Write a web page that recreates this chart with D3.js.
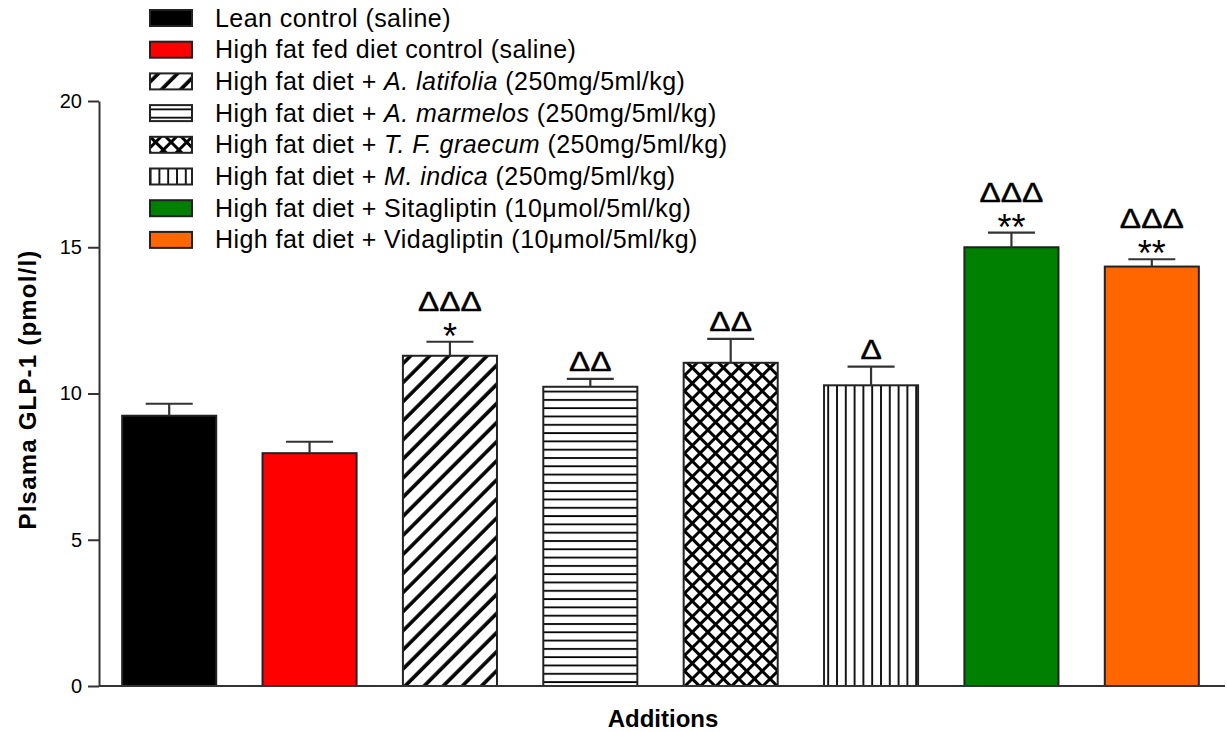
<!DOCTYPE html>
<html>
<head>
<meta charset="utf-8">
<script src="https://cdn.jsdelivr.net/npm/d3@7"></script>
<style>
  html, body { margin: 0; padding: 0; background: #fff; }
  svg { display: block; font-family: "Liberation Sans", Arial, sans-serif; }
</style>
</head>
<body>
<svg id="chart" width="1227" height="732"></svg>
<script>
// Group names (legend rows): plain prefix, italic species name, plain suffix
const groupPrefix = ["Lean control (saline)", "High fat fed diet control (saline)",
  "High fat diet + ", "High fat diet + ", "High fat diet + ", "High fat diet + ",
  "High fat diet + Sitagliptin (10\u03bcmol/5ml/kg)", "High fat diet + Vidagliptin (10\u03bcmol/5ml/kg)"];
const groupItalic = ["", "", "A. latifolia", "A. marmelos", "T. F. graecum", "M. indica", "", ""];
const groupSuffix = ["", "", " (250mg/5ml/kg)", " (250mg/5ml/kg)", " (250mg/5ml/kg)", " (250mg/5ml/kg)", "", ""];

// Mean plasma GLP-1 (pmol/l) and SEM per group
const means = [9.24, 7.96, 11.29, 10.23, 11.05, 10.28, 15.0, 14.34];
const sems  = [0.41, 0.39, 0.48, 0.27, 0.82, 0.64, 0.50, 0.25];

// Significance marks above each bar
const deltaMarks = ["", "", "\u0394\u0394\u0394", "\u0394\u0394", "\u0394\u0394", "\u0394", "\u0394\u0394\u0394", "\u0394\u0394\u0394"];
const starMarks  = ["", "", "*", "", "", "", "**", "**"];

const yTicks = [0, 5, 10, 15, 20];

const fills = ["#000000", "#ff0000", "url(#pDiag)", "url(#pHoriz)", "url(#pCross)", "url(#pVert)", "#008000", "#ff6600"];

const svg = d3.select("#chart");
const axisColor = "#333";

// Fill patterns
const defs = svg.append("defs");
const pDiag = defs.append("pattern").attr("id", "pDiag").attr("patternUnits", "userSpaceOnUse")
  .attr("width", 13.5).attr("height", 13.5).attr("patternTransform", "rotate(45)");
pDiag.append("rect").attr("width", 13.5).attr("height", 13.5).attr("fill", "#fff");
pDiag.append("line").attr("x1", 2).attr("x2", 2).attr("y1", 0).attr("y2", 13.5)
  .attr("stroke", "#000").attr("stroke-width", 3.6);

const pHoriz = defs.append("pattern").attr("id", "pHoriz").attr("patternUnits", "userSpaceOnUse")
  .attr("width", 10).attr("height", 8.3).attr("y", 0.5);
pHoriz.append("rect").attr("width", 10).attr("height", 8.3).attr("fill", "#fff");
pHoriz.append("line").attr("x1", 0).attr("x2", 10).attr("y1", 1).attr("y2", 1)
  .attr("stroke", "#000").attr("stroke-width", 1.8);

const pCross = defs.append("pattern").attr("id", "pCross").attr("patternUnits", "userSpaceOnUse")
  .attr("width", 11).attr("height", 11).attr("patternTransform", "rotate(45)");
pCross.append("rect").attr("width", 11).attr("height", 11).attr("fill", "#fff");
pCross.append("line").attr("x1", 0).attr("x2", 11).attr("y1", 1).attr("y2", 1)
  .attr("stroke", "#000").attr("stroke-width", 4);
pCross.append("line").attr("x1", 1).attr("x2", 1).attr("y1", 0).attr("y2", 11)
  .attr("stroke", "#000").attr("stroke-width", 4);

const pVert = defs.append("pattern").attr("id", "pVert").attr("patternUnits", "userSpaceOnUse")
  .attr("width", 8.8).attr("height", 10).attr("x", 0);
pVert.append("rect").attr("width", 8.8).attr("height", 10).attr("fill", "#fff");
pVert.append("line").attr("x1", 1).attr("x2", 1).attr("y1", 0).attr("y2", 10)
  .attr("stroke", "#000").attr("stroke-width", 1.8);

// Scales
const x = d3.scaleBand().domain(d3.range(means.length)).range([99, 1222])
  .paddingInner(0.33).paddingOuter(0.165);
const y = d3.scaleLinear().domain([0, 20]).range([686, 101]);

// Bars
const bars = svg.append("g");
bars.selectAll("rect").data(means).join("rect")
  .attr("x", (d, i) => x(i))
  .attr("y", d => y(d))
  .attr("width", x.bandwidth())
  .attr("height", d => y(0) - y(d))
  .attr("fill", (d, i) => fills[i])
  .attr("stroke", "#222").attr("stroke-width", 2);

// Error bars (upper whisker only)
const err = svg.append("g").attr("stroke", axisColor).attr("stroke-width", 2.2);
means.forEach((m, i) => {
  const cx = x(i) + x.bandwidth() / 2;
  const capW = x.bandwidth() / 2;
  err.append("line").attr("x1", cx).attr("x2", cx).attr("y1", y(m)).attr("y2", y(m + sems[i]));
  err.append("line").attr("x1", cx - capW / 2).attr("x2", cx + capW / 2)
    .attr("y1", y(m + sems[i])).attr("y2", y(m + sems[i]));
});

// Significance annotations
const ann = svg.append("g").attr("text-anchor", "middle").attr("fill", "#000");
function deltaText(cx, by, s) {
  ann.append("text").attr("transform", `translate(${cx},${by}) scale(1.14,1)`)
    .attr("font-size", 28).attr("stroke", "#000").attr("stroke-width", 0.4).text(s);
}
means.forEach((m, i) => {
  const cx = x(i) + x.bandwidth() / 2;
  const capY = y(m + sems[i]);
  if (starMarks[i]) {
    ann.append("text").attr("x", cx).attr("y", capY + 7).attr("font-size", 36)
      .text(starMarks[i]);
    deltaText(cx, capY - 31, deltaMarks[i]);
  } else if (deltaMarks[i]) {
    deltaText(cx, capY - 8, deltaMarks[i]);
  }
});

// Y axis
const yAxis = svg.append("g").attr("transform", "translate(99,0)")
  .call(d3.axisLeft(y).tickValues(yTicks).tickSize(11).tickPadding(6).tickSizeOuter(0));
yAxis.select(".domain").attr("stroke", axisColor).attr("stroke-width", 2);
yAxis.selectAll(".tick line").attr("stroke", axisColor).attr("stroke-width", 2);
yAxis.selectAll(".tick text").attr("font-size", 20).attr("fill", "#000")
  .attr("font-family", "Liberation Sans, Arial, sans-serif");

// X axis baseline
svg.append("line").attr("x1", 99).attr("x2", 1225).attr("y1", y(0)).attr("y2", y(0))
  .attr("stroke", axisColor).attr("stroke-width", 2);

// Axis titles
svg.append("text").attr("transform", `translate(36,${y(10) - 4}) rotate(-90)`)
  .attr("text-anchor", "middle").attr("font-weight", "bold").attr("font-size", 24)
  .attr("letter-spacing", 1.2)
  .text("Plsama GLP-1 (pmol/l)");
svg.append("text").attr("x", 663).attr("y", 727).attr("text-anchor", "middle")
  .attr("font-weight", "bold").attr("font-size", 24).text("Additions");

// Legend
const legend = svg.append("g");
groupPrefix.forEach((p, i) => {
  const ry = 18 + i * 31.7;
  legend.append("rect").attr("x", 150).attr("y", ry - 8).attr("width", 42).attr("height", 16)
    .attr("fill", fills[i]).attr("stroke", "#222").attr("stroke-width", 2);
  const t = legend.append("text").attr("x", 215).attr("y", ry + 8.5).attr("font-size", 25)
    .attr("letter-spacing", 0.45);
  t.append("tspan").text(p);
  if (groupItalic[i]) t.append("tspan").attr("font-style", "italic").text(groupItalic[i]);
  if (groupSuffix[i]) t.append("tspan").text(groupSuffix[i]);
});
</script>
</body>
</html>
